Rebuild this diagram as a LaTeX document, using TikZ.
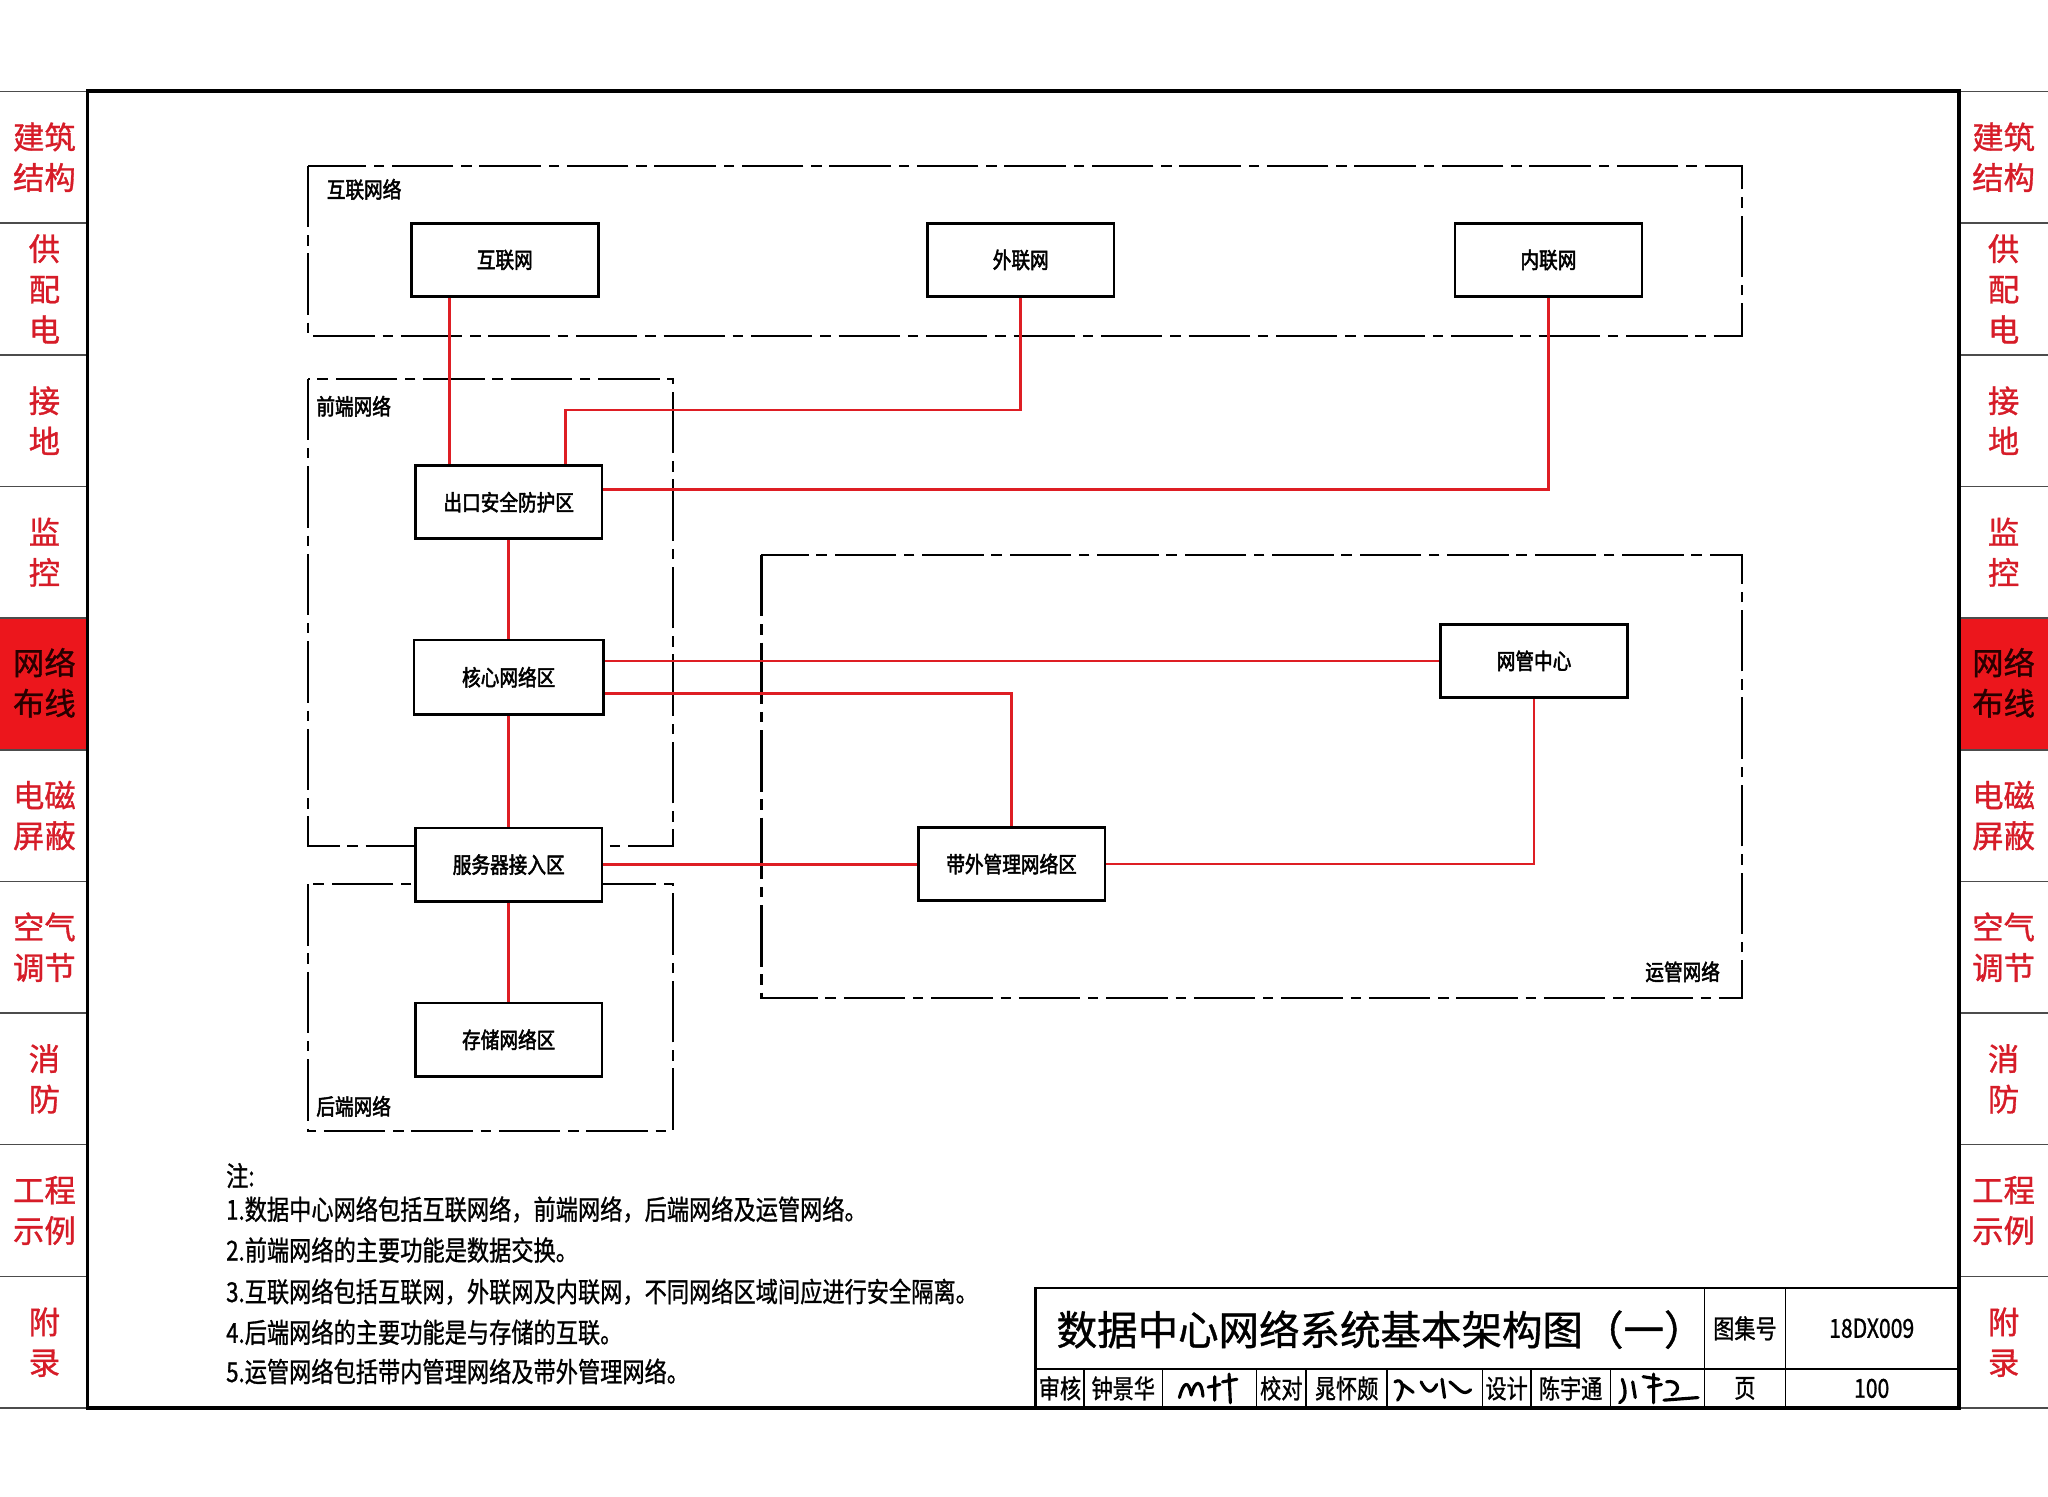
\documentclass[tikz,border=0pt]{standalone}
\usepackage{fontspec}
\newfontfamily\cjk[FakeBold=1]{Noto Sans CJK SC}
\newfontfamily\cjkbox[FakeStretch=0.84,FakeBold=2.2]{Noto Sans CJK SC}
\newfontfamily\cjknote[FakeStretch=0.81,FakeBold=1]{Noto Sans CJK SC}
\usetikzlibrary{positioning}

\definecolor{wire}{RGB}{222,30,36}
\definecolor{tabred}{RGB}{236,22,28}
\definecolor{tabtext}{RGB}{214,28,40}
\definecolor{tabdark}{RGB}{40,0,0}

\tikzset{
  zone/.style={draw, line width=2pt, fill=white, minimum width=143pt, minimum height=56pt,
    inner sep=0pt, font=\cjkbox\fontsize{17}{17}\selectfont},
  region/.style={line width=1.6pt, dash pattern=on 47pt off 6pt on 8pt off 6pt},
  regionlabel/.style={inner sep=0pt, font=\cjkbox\fontsize{17}{17}\selectfont},
  link/.style={wire, line width=2pt},
  tablabel/.style={align=center, inner sep=0pt, font=\cjk\fontsize{24}{31}\selectfont},
  note/.style={anchor=west, inner sep=0pt, font=\cjknote\fontsize{21}{21}\selectfont},
  cell/.style={inner sep=0pt, font=\cjknote\fontsize{20}{20}\selectfont},
  sign/.style={line width=2.4pt, line cap=round, line join=round},
}

\begin{document}
\begin{tikzpicture}[x=1pt, y=-1pt]
        \useasboundingbox (0,0) rectangle (1568,1146);

        % side tabs
        \fill[tabred] (0,472.4) rectangle (67,573.2);
        \fill[tabred] (1500,472.4) rectangle (1568,573.2);
        \foreach \i in {0,...,10} {
          \draw[black!70, line width=1.2pt] (0,{70+100.8*\i}) -- (67,{70+100.8*\i});
          \draw[black!70, line width=1.2pt] (1500,{70+100.8*\i}) -- (1568,{70+100.8*\i});
        }
        \foreach \t [count=\i] in {建筑\\结构, 供\\配\\电, 接\\地, 监\\控, {}, 电磁\\屏蔽,
            空气\\调节, 消\\防, 工程\\示例, 附\\录} {
          \node[tablabel, text=tabtext] (tabL\i) at (34,{70+100.8*(\i-0.5)}) {\t};
          \node[tablabel, text=tabtext] (tabR\i) at (1534,{70+100.8*(\i-0.5)}) {\t};
        }
        \node[tablabel, text=tabdark] (curL) at (34,522.8) {网络\\布线};
        \node[tablabel, text=tabdark] (curR) at (1534,522.8) {网络\\布线};
        \draw[line width=3pt] (67,70) rectangle (1500,1078);

        % network regions
        \draw[region] (236,127) rectangle (1334,257);
        \draw[region] (236,290) rectangle (515,648);
        \draw[region] (236,677) rectangle (515,866);
        \draw[region] (583,425) rectangle (1334,764);
        \node[regionlabel, anchor=west] (lblInter) at (250,145) {互联网络};
        \node[regionlabel, anchor=west] (lblFront) at (242,311) {前端网络};
        \node[regionlabel, anchor=west] (lblBack) at (242,847) {后端网络};
        \node[regionlabel, anchor=east] (lblOps) at (1317,744) {运管网络};

        \node[zone] (inet) at (386.5,199) {互联网};
        \node[zone] (extnet) at (781.5,199) {外联网};
        \node[zone] (intra) at (1185.5,199) {内联网};
        \node[zone] (exit) at (389.5,384.5) {出口安全防护区};
        \node[zone, minimum width=145pt, minimum height=57pt] (core) at (389.5,518.5) {核心网络区};
        \node[zone] (server) at (389.5,662) {服务器接入区};
        \node[zone] (store) at (389.5,796) {存储网络区};
        \node[zone] (nms) at (1174.5,506) {网管中心};
        \node[zone] (oob) at (774.5,661.5) {带外管理网络区};

        \coordinate (bendA) at (433,314);
        \draw[link] ([xshift=-42.5pt]inet.south) -- ([xshift=-42.5pt]inet.south |- exit.north);
        \draw[link] (extnet.south) |- (bendA) -- (bendA |- exit.north);
        \draw[link] (intra.south) |- ([yshift=9.5pt]exit.east);
        \draw[link] (exit.south) -- (core.north);
        \draw[link] (core.east |- nms.west) -- (nms.west);
        \draw[link] ([yshift=-12.5pt]core.east) -| (oob.north);
        \draw[link] (core.south) -- (server.north);
        \draw[link] (server.east) -- (server.east -| oob.west);
        \draw[link] (oob.east) -| (nms.south);
        \draw[link] (server.south) -- (store.north);

        % notes
        \node[note] (n0) at (173,900) {注:};
        \node[note] (n1) at (173,926) {1.数据中心网络包括互联网络，前端网络，后端网络及运管网络。};
        \node[note] (n2) at (173,957) {2.前端网络的主要功能是数据交换。};
        \node[note] (n3) at (173,989) {3.互联网络包括互联网，外联网及内联网，不同网络区域间应进行安全隔离。};
        \node[note] (n4) at (173,1020) {4.后端网络的主要功能是与存储的互联。};
        \node[note] (n5) at (173,1050) {5.运管网络包括带内管理网络及带外管理网络。};

        % title block
        \draw[line width=2pt] (793,986) rectangle (1500,1078);
        \draw[line width=1.3pt] (793,1048) -- (1500,1048);
        \draw[line width=1.3pt] (1305,986) -- (1305,1078) (1367,986) -- (1367,1078);
        \foreach \x in {830,890,962,1000,1062,1135,1172,1233}
          \draw[line width=1.3pt] (\x,1048) -- (\x,1078);
        \node[inner sep=0pt, font=\cjk\fontsize{31}{31}\selectfont] (title) at (1057,1018)
          {数据中心网络系统基本架构图（一）};
        \node[cell] (atlasKey) at (1336,1017) {图集号};
        \node[cell] (atlasNo) at (1433,1017) {18DX009};
        \node[cell] (pageKey) at (1336,1063) {页};
        \node[cell] (pageNo) at (1433,1063) {100};
        \node[cell] (rev) at (811.5,1063) {审核};
        \node[cell] (revName) at (860,1063) {钟景华};
        \node[cell] (chk) at (981,1063) {校对};
        \node[cell] (chkName) at (1031,1063) {晁怀颇};
        \node[cell] (des) at (1153.5,1063) {设计};
        \node[cell] (desName) at (1202.5,1063) {陈宇通};

        % signatures
        \draw[sign] (903,1070) .. controls (906,1058) and (910,1056) .. (912,1068)
          .. controls (915,1056) and (920,1056) .. (921,1069);
        \draw[sign] (925,1062) -- (934,1060) (930,1054) -- (930,1072) (936,1058) -- (947,1056)
          (941,1052) -- (942,1074);
        \draw[sign] (1068,1058) .. controls (1074,1054) and (1076,1064) .. (1070,1072)
          (1074,1060) -- (1082,1066) (1088,1058) .. controls (1092,1066) and (1096,1068) .. (1100,1060)
          (1104,1056) -- (1106,1070) (1110,1058) .. controls (1116,1062) and (1120,1070) .. (1126,1064);
        \draw[sign] (1242,1056) .. controls (1246,1066) and (1244,1072) .. (1240,1074)
          (1250,1058) -- (1252,1070) (1258,1054) -- (1270,1056) (1262,1062) -- (1272,1060)
          (1266,1052) -- (1266,1074) (1276,1058) .. controls (1284,1056) and (1288,1064) .. (1280,1068)
          (1274,1072) -- (1300,1070);
\end{tikzpicture}
\end{document}
